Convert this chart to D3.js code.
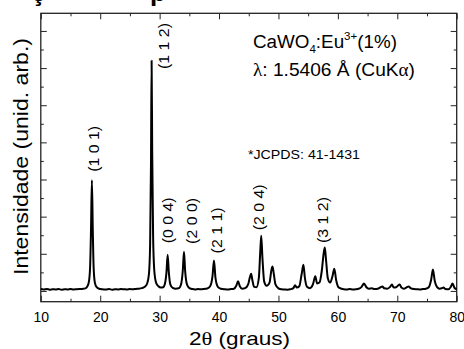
<!DOCTYPE html>
<html>
<head>
<meta charset="utf-8">
<script src="https://cdn.jsdelivr.net/npm/d3@7"></script>
<style>
  body { margin: 0; background: #fff; }
  svg { display: block; font-family: "Liberation Sans", Arial, sans-serif; }
  .axis path { display: none; }
  .axis line { stroke: #222; stroke-width: 1; }
  .axis text { font-size: 14px; fill: #000; font-family: "Liberation Sans", Arial, sans-serif; }
</style>
</head>
<body>
<div id="chart"></div>
<script>
// XRD pattern, CaWO4:Eu3+ (1%)
var twoTheta = [
  10.0, 10.5, 11.0, 11.5, 12.0, 12.5, 13.0, 13.5, 14.0, 14.5, 15.0, 15.5, 16.0, 16.5, 17.0, 17.5,
  17.8, 18.1, 18.3, 18.45, 18.6, 18.75, 18.9, 19.1, 19.4, 19.8, 20.3, 21.0, 21.5, 22.0, 22.5, 23.0,
  23.5, 24.0, 24.5, 25.0, 25.5, 26.0, 26.5, 27.0, 27.5, 27.9, 28.2, 28.4, 28.55, 28.65, 28.75, 28.9,
  29.1, 29.4, 29.8, 30.2, 30.6, 30.9, 31.15, 31.35, 31.55, 31.8, 32.2, 32.7, 33.2, 33.6, 33.9, 34.1,
  34.3, 34.6, 35.0, 35.5, 36.0, 36.5, 37.0, 37.5, 38.0, 38.5, 38.9, 39.15, 39.4, 39.8, 40.3, 41.0,
  41.5, 42.0, 42.5, 42.9, 43.2, 43.5, 43.9, 44.4, 44.9, 45.2, 45.4, 45.6, 45.9, 46.3, 46.7, 46.95,
  47.1, 47.3, 47.6, 48.0, 48.5, 48.8, 49.0, 49.2, 49.5, 50.0, 50.5, 51.0, 51.5, 52.0, 52.5, 52.8,
  53.1, 53.5, 53.9, 54.2, 54.45, 54.8, 55.3, 55.8, 56.2, 56.5, 56.9, 57.3, 57.6, 57.8, 58.0, 58.3,
  58.7, 59.1, 59.4, 59.7, 60.1, 60.6, 61.0, 61.5, 62.0, 62.5, 63.0, 63.5, 64.0, 64.4, 64.8, 65.2,
  65.7, 66.2, 66.7, 67.2, 67.5, 67.8, 68.3, 68.8, 69.1, 69.4, 69.8, 70.1, 70.4, 70.7, 71.1, 71.5,
  71.9, 72.3, 72.8, 73.3, 73.8, 74.3, 74.8, 75.3, 75.7, 76.0, 76.3, 76.7, 77.1, 77.5, 77.8, 78.1,
  78.6, 79.0, 79.3, 79.6, 80.0
];
var intensity = [
  10, 8, 11, 7, 9, 8, 10, 7, 9, 8, 10, 8, 9, 10, 11, 14,
  22, 50, 130, 330, 596, 330, 120, 45, 20, 12, 9, 8, 10, 7, 9, 8,
  10, 9, 8, 10, 9, 11, 12, 15, 22, 40, 90, 250, 700, 1239, 750, 300,
  110, 45, 25, 18, 20, 40, 100, 195, 100, 35, 16, 12, 14, 35, 110, 211,
  105, 35, 15, 10, 8, 10, 9, 11, 13, 25, 80, 164, 70, 22, 12, 9,
  8, 10, 12, 28, 52, 25, 12, 15, 35, 75, 93, 60, 22, 20, 70, 220,
  297, 180, 50, 28, 45, 110, 131, 95, 35, 14, 9, 8, 7, 9, 15, 30,
  18, 25, 90, 141, 70, 22, 15, 35, 79, 40, 45, 110, 200, 234, 170, 70,
  45, 80, 120, 60, 20, 12, 9, 8, 10, 8, 9, 12, 22, 40, 20, 12,
  14, 10, 12, 20, 24, 14, 12, 22, 34, 18, 20, 28, 34, 18, 12, 18,
  24, 14, 10, 9, 8, 10, 12, 20, 60, 115, 55, 20, 12, 14, 18, 10,
  9, 22, 40, 18, 8
];

// Miller index labels and where they sit (2theta, intensity units)
var hklText = ['(1 0 1)', '(1 1 2)', '(0 0 4)', '(2 0 0)', '(2 1 1)', '(2 0 4)', '(3 1 2)'];
var hklTheta = [18.85, 30.76, 31.43, 35.36, 39.56, 46.67, 57.48];
var hklLevel = [765, 1319, 380, 377, 326, 450, 382];

var xMajorTicks = [10, 20, 30, 40, 50, 60, 70, 80];
var xMinorTicks = [15, 25, 35, 45, 55, 65, 75];
var yMajorTicks = [0, 200, 400, 600, 800, 1000, 1200, 1400];
var yMinorTicks = [100, 300, 500, 700, 900, 1100, 1300];

var width = 464;
var height = 349;

var margin = {
  top: 13.3,
  right: 7.3,
  bottom: 47.3,
  left: 40.8
};

var plotW = width - margin.left - margin.right;
var plotH = height - margin.top - margin.bottom;

var svg = d3.select('#chart')
  .append('svg')
  .attr('width', width)
  .attr('height', height);

var x = d3.scaleLinear()
  .domain([10, 80])
  .range([margin.left, margin.left + plotW]);

var y = d3.scaleLinear()
  .domain([-58, 1495])
  .range([margin.top + plotH, margin.top]);

// cropped title fragments peeking in at the top edge
svg.append('text')
  .attr('x', 31)
  .attr('y', 0.5)
  .style('font-size', '26px')
  .style('font-weight', 'bold')
  .text('ç');

svg.append('text')
  .attr('x', 150)
  .attr('y', 0.5)
  .style('font-size', '26px')
  .style('font-weight', 'bold')
  .text('p');

// axes, ticks pointing inwards
function addAxis(axis, transform, labels) {
  var g = svg.append('g')
    .attr('class', 'axis')
    .attr('transform', transform)
    .call(axis);

  if (!labels) {
    g.selectAll('text').remove();
  }
  return g;
}

addAxis(d3.axisBottom(x).tickValues(xMajorTicks).tickSize(-6).tickPadding(10).tickFormat(d3.format('d')),
  'translate(0,' + (margin.top + plotH) + ')', true);
addAxis(d3.axisBottom(x).tickValues(xMinorTicks).tickSize(-3),
  'translate(0,' + (margin.top + plotH) + ')', false);
addAxis(d3.axisTop(x).tickValues(xMajorTicks).tickSize(-6),
  'translate(0,' + margin.top + ')', false);
addAxis(d3.axisTop(x).tickValues(xMinorTicks).tickSize(-3),
  'translate(0,' + margin.top + ')', false);
addAxis(d3.axisLeft(y).tickValues(yMajorTicks).tickSize(-6),
  'translate(' + margin.left + ',0)', false);
addAxis(d3.axisLeft(y).tickValues(yMinorTicks).tickSize(-3),
  'translate(' + margin.left + ',0)', false);
addAxis(d3.axisRight(y).tickValues(yMajorTicks).tickSize(-6),
  'translate(' + (margin.left + plotW) + ',0)', false);
addAxis(d3.axisRight(y).tickValues(yMinorTicks).tickSize(-3),
  'translate(' + (margin.left + plotW) + ',0)', false);

svg.append('rect')
  .attr('x', margin.left)
  .attr('y', margin.top)
  .attr('width', plotW)
  .attr('height', plotH)
  .attr('fill', 'none')
  .attr('stroke', '#222')
  .attr('stroke-width', 1.3);

// pattern
var points = twoTheta.map(function(t, i) {
  return [t, intensity[i]];
});

var line = d3.line()
  .x(function(d) { return x(d[0]); })
  .y(function(d) { return y(d[1]); })
  .curve(d3.curveMonotoneX);

svg.append('path')
  .datum(points)
  .attr('d', line)
  .attr('fill', 'none')
  .attr('stroke', '#000')
  .attr('stroke-width', 2)
  .attr('stroke-linejoin', 'round');

// hkl labels
hklText.forEach(function(label, i) {
  svg.append('text')
    .attr('transform', 'translate(' + x(hklTheta[i]) + ',' + y(hklLevel[i]) + ') rotate(-90)')
    .attr('text-anchor', 'middle')
    .attr('dy', '0.35em')
    .attr('textLength', 46)
    .attr('lengthAdjust', 'spacingAndGlyphs')
    .style('font-size', '15px')
    .text(label);
});

// sample / wavelength notes
var note1 = svg.append('text')
  .attr('x', 253)
  .attr('y', 48)
  .attr('textLength', 144)
  .attr('lengthAdjust', 'spacingAndGlyphs')
  .style('font-size', '18px');
note1.append('tspan').text('CaWO');
note1.append('tspan').attr('dy', 5).style('font-size', '11px').text('4');
note1.append('tspan').attr('dy', -5).text(':Eu');
note1.append('tspan').attr('dy', -8).style('font-size', '11px').text('3+');
note1.append('tspan').attr('dy', 8).text('(1%)');

var note2 = svg.append('text')
  .attr('x', 253)
  .attr('y', 76)
  .attr('textLength', 162)
  .attr('lengthAdjust', 'spacingAndGlyphs')
  .style('font-size', '18px');
note2.append('tspan').style('font-family', '"Liberation Serif", serif').text('λ');
note2.append('tspan').text(': 1.5406 Å (CuK');
note2.append('tspan').style('font-family', '"Liberation Serif", serif').text('α');
note2.append('tspan').text(')');

svg.append('text')
  .attr('x', 248)
  .attr('y', 159)
  .attr('textLength', 112)
  .attr('lengthAdjust', 'spacingAndGlyphs')
  .style('font-size', '12px')
  .text('*JCPDS: 41-1431');

// axis titles
var xTitle = svg.append('text')
  .attr('x', 239.5)
  .attr('y', 345)
  .attr('text-anchor', 'middle')
  .attr('textLength', 101)
  .attr('lengthAdjust', 'spacingAndGlyphs')
  .style('font-size', '19px');
xTitle.append('tspan').text('2');
xTitle.append('tspan').style('font-family', '"Liberation Serif", serif').text('θ');
xTitle.append('tspan').text(' (graus)');

svg.append('text')
  .attr('transform', 'translate(28,156.5) rotate(-90)')
  .attr('text-anchor', 'middle')
  .attr('textLength', 237)
  .attr('lengthAdjust', 'spacingAndGlyphs')
  .style('font-size', '21px')
  .text('Intensidade (unid. arb.)');
</script>
</body>
</html>
